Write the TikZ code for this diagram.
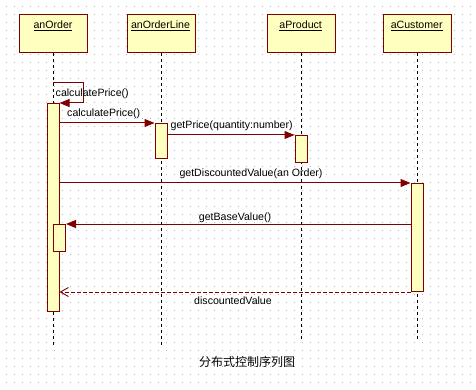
\documentclass[tikz,border=0pt]{standalone}
\usepackage{fontspec}
\setmainfont{Liberation Sans}
\newfontfamily\cjk{Noto Sans CJK SC}
\usetikzlibrary{arrows.meta}
\definecolor{umlred}{HTML}{800000}
\definecolor{umlfill}{HTML}{FFFFC0}
\definecolor{griddot}{HTML}{B4B4B4}
\begin{document}
\begin{tikzpicture}[x=1pt,y=-1pt,
  font=\fontsize{10.6}{12}\selectfont,
  objbox/.style={draw=umlred, fill=umlfill, line width=1pt, minimum width=68pt, minimum height=38pt, inner sep=0pt},
  act/.style={draw=umlred, fill=umlfill, line width=1pt, inner sep=0pt, anchor=north west, minimum width=12pt},
  lifeline/.style={line width=0.9pt, dash pattern=on 3pt off 3pt},
  msg/.style={draw=umlred, line width=1pt, -{Triangle[length=10pt,width=8pt]}},
  ret/.style={draw=umlred, line width=0.9pt, dash pattern=on 4pt off 2pt, -{Straight Barb[length=8pt,width=9pt]}},
  lbl/.style={inner sep=0pt}]
\useasboundingbox (0,0) rectangle (476,390);
\fill[white] (0,0) rectangle (476,390);
% dotted grid
\foreach \i in {0,...,58}{
  \foreach \j in {0,...,48}{
    \fill[griddot] (8*\i+6,8*\j+6) rectangle ++(1,1);
  }
}
% object boxes
\node[objbox] (b1) at (53,34) {};
\node[objbox] (b2) at (161,34) {};
\node[objbox] (b3) at (301,34) {};
\node[objbox] (b4) at (417,34) {};
\node[lbl] (t1) at (53,26) {\underline{anOrder}};
\node[lbl] (t2) at (160.5,26) {\underline{anOrderLine}};
\node[lbl] (t3) at (300.7,26) {\underline{aProduct}};
\node[lbl] (t4) at (416.7,26) {\underline{aCustomer}};
% lifelines
\path (b1.south) ++(0,293) coordinate (e1);
\path (b2.south) ++(0,292) coordinate (e2);
\path (b3.south) ++(0,286) coordinate (e3);
\path (b4.south) ++(0,286) coordinate (e4);
\draw[lifeline] (b1.south) -- (e1);
\draw[lifeline] (b2.south) -- (e2);
\draw[lifeline] (b3.south) -- (e3);
\draw[lifeline] (b4.south) -- (e4);
% activations
\node[act, minimum height=208pt] (a1) at (46.5,103) {};
\node[act, minimum height=35.5pt] (a2) at (154.5,123) {};
\node[act, minimum height=27pt] (a3) at (294.5,135) {};
\node[act, minimum height=108pt] (a4) at (410.5,183) {};
\node[act, minimum height=27pt] (a5) at (53,224) {};
% messages
\coordinate (self) at (53,83);
\draw[msg] (self) -| ++(30,20) -- (a1.north east);
\draw[msg] (a1.east |- a2.north) -- (a2.north west);
\draw[msg] (a2.east |- a3.north) -- (a3.north west);
\draw[msg] (a1.east |- a4.north) -- (a4.north west);
\draw[msg] (a4.west |- a5.north) -- (a5.north east);
\draw[ret] (a4.south west) -- (a1.east |- a4.south);
% labels
\node[lbl, anchor=west] (l1) at (55.5,94) {calculatePrice()};
\node[lbl, anchor=west] (l2) at (67,114) {calculatePrice()};
\node[lbl, anchor=west] (l3) at (170.5,126) {getPrice(quantity:number)};
\node[lbl] (l4) at (251,174) {getDiscountedValue(an Order)};
\node[lbl] (l5) at (235,218) {getBaseValue()};
\node[lbl] (l6) at (233,301) {discountedValue};
\node[lbl] (title) at (247,362) {\cjk\fontsize{12}{14}\selectfont 分布式控制序列图};
\end{tikzpicture}
\end{document}
